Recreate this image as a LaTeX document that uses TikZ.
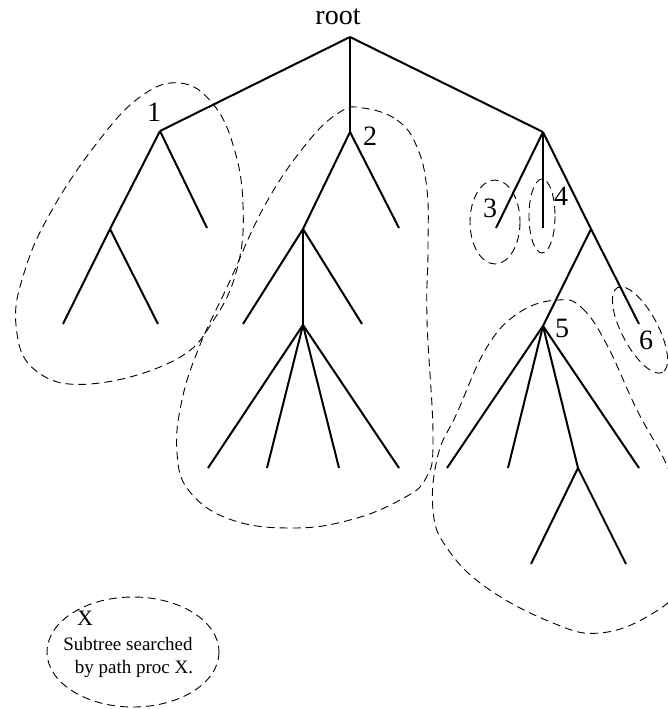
\documentclass[tikz,border=0pt]{standalone}
\usepackage{fontspec}
\setmainfont{Liberation Serif}
\begin{document}
\begin{tikzpicture}[x=1pt,y=-1pt,
  edge/.style={line width=2pt},
  sloop/.style={dash pattern=on 8pt off 5pt, line width=0.9pt},
  lab/.style={font=\fontsize{28}{30}\selectfont, inner sep=0pt, anchor=base},
  legtxt/.style={font=\fontsize{19}{21}\selectfont, inner sep=0pt, anchor=base}]
\useasboundingbox (0,0) rectangle (668,709);
\clip (0,0) rectangle (668,709);
% tree vertices
\coordinate (r) at (350,37);
\coordinate (a) at (160,131);
\coordinate (b) at (350,132);
\coordinate (c) at (543,132);
\coordinate (a1) at (110,229);
\coordinate (a2) at (207,228);
\coordinate (a11) at (63,324);
\coordinate (a12) at (158,324);
\coordinate (b1) at (303,229);
\coordinate (b2) at (399,228);
\coordinate (b11) at (243,324);
\coordinate (b12) at (303,325);
\coordinate (b13) at (362,324);
\coordinate (b121) at (208,468);
\coordinate (b122) at (267,468);
\coordinate (b123) at (339,468);
\coordinate (b124) at (399,468);
\coordinate (c1) at (496,228);
\coordinate (c2) at (543,228);
\coordinate (c3) at (591,229);
\coordinate (c31) at (543,326);
\coordinate (c32) at (639,324);
\coordinate (d1) at (447,468);
\coordinate (d2) at (508,468);
\coordinate (d3) at (578,468);
\coordinate (d4) at (639,468);
\coordinate (d31) at (531,564);
\coordinate (d32) at (626,564);
% edges
\draw[edge] (r) -- (a);
\draw[edge] (r) -- (b);
\draw[edge] (r) -- (c);
\draw[edge] (a) -- (a1);
\draw[edge] (a) -- (a2);
\draw[edge] (a1) -- (a11);
\draw[edge] (a1) -- (a12);
\draw[edge] (b) -- (b1);
\draw[edge] (b) -- (b2);
\draw[edge] (b1) -- (b11);
\draw[edge] (b1) -- (b12);
\draw[edge] (b1) -- (b13);
\draw[edge] (b12) -- (b121);
\draw[edge] (b12) -- (b122);
\draw[edge] (b12) -- (b123);
\draw[edge] (b12) -- (b124);
\draw[edge] (c) -- (c1);
\draw[edge] (c) -- (c2);
\draw[edge] (c) -- (c3);
\draw[edge] (c3) -- (c31);
\draw[edge] (c3) -- (c32);
\draw[edge] (c31) -- (d1);
\draw[edge] (c31) -- (d2);
\draw[edge] (c31) -- (d3);
\draw[edge] (c31) -- (d4);
\draw[edge] (d3) -- (d31);
\draw[edge] (d3) -- (d32);
% labels
\node[lab] (lroot) at (338,25) {root};
\node[lab] (l1) at (154,121) {1};
\node[lab] (l2) at (370,145) {2};
\node[lab] (l3) at (490,217) {3};
\node[lab] (l4) at (561,205) {4};
\node[lab] (l5) at (562,337) {5};
\node[lab] (l6) at (646,349) {6};
% dashed loops
\draw[sloop] plot[smooth cycle, tension=0.7] coordinates {
  (180,83) (213,104) (234,148) (243,205) (238,265) (215,318) (175,360) (90,384)
  (35,370) (16,325) (25,270) (52,210) (97,143) (140,97)};
\draw[sloop] plot[smooth cycle, tension=0.7] coordinates {
  (363,108) (397,120) (417,147) (427,190) (428,250) (427,320) (433,437) (426,478)
  (400,500) (350,520) (293,528) (232,520) (190,492) (177,453) (182,400)
  (200,345) (228,285) (265,205) (307,143) (340,112)};
\draw[sloop] plot[smooth cycle, tension=0.7] coordinates {
  (558,300) (582,308) (607,345) (637,410) (668,468) (688,530) (680,585)
  (650,615) (600,633) (553,623) (487,588) (447,548) (433,510) (438,455)
  (457,413) (487,347) (520,312)};
\draw[sloop] (495,222) ellipse [x radius=25, y radius=42];
\draw[sloop] (542,216) ellipse [x radius=13, y radius=37];
\draw[sloop] (640,330) ellipse [x radius=48, y radius=18, rotate=-62];
% legend
\draw[sloop] (133,652) ellipse [x radius=86, y radius=55];
\node[font=\fontsize{22}{24}\selectfont, inner sep=0pt, anchor=base] (lx) at (85,625) {X};
\node[legtxt] (lt1) at (128,650) {Subtree searched};
\node[legtxt] (lt2) at (134,673) {by path proc X.};
\end{tikzpicture}
\end{document}
